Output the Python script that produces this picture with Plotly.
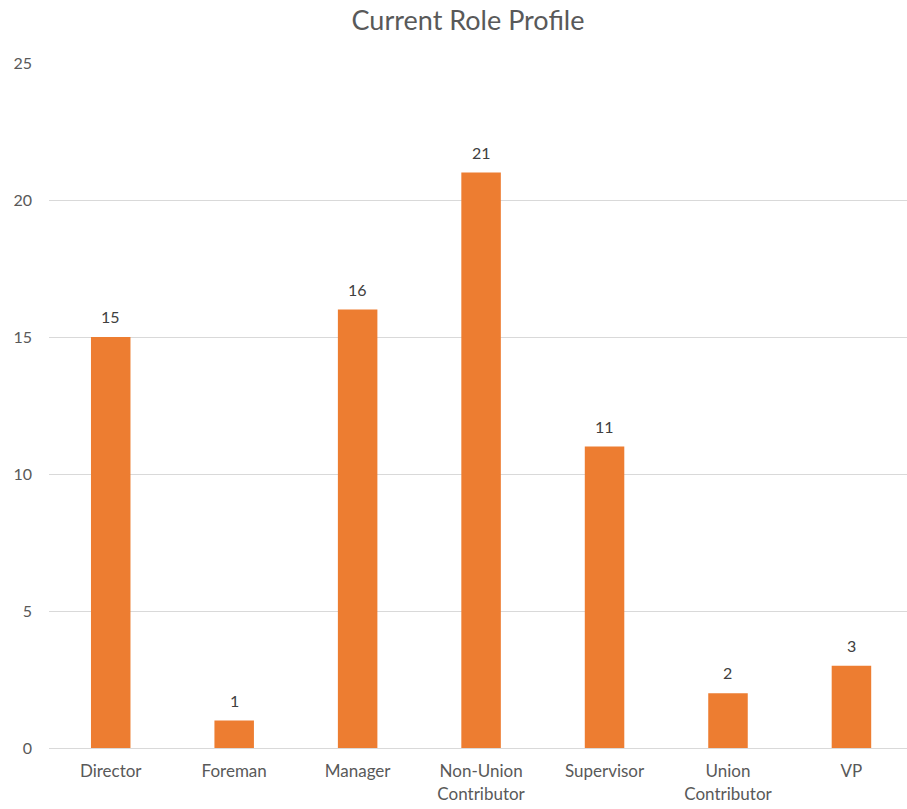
import plotly.graph_objects as go

roles = ["Director", "Foreman", "Manager", "Non-Union<br>Contributor",
         "Supervisor", "Union<br>Contributor", "VP"]
counts = [15, 1, 16, 21, 11, 2, 3]
y_ticks = [0, 5, 10, 15, 20, 25]

font_family = "Lato, 'Open Sans', sans-serif"

fig = go.Figure(
    go.Bar(
        x=roles,
        y=counts,
        marker=dict(color="#ED7D31", line=dict(width=0)),
        width=0.32,
    )
)

# value labels above each bar
for role, c in zip(roles, counts):
    fig.add_annotation(
        x=role,
        y=c,
        text=str(c),
        showarrow=False,
        yanchor="bottom",
        yshift=9,
        font=dict(size=16, color="#404040", family=font_family),
    )

fig.update_layout(
    width=907,
    height=809,
    margin=dict(l=49, r=0, t=63, b=61),
    paper_bgcolor="white",
    plot_bgcolor="white",
    showlegend=False,
    title=dict(
        text="Current Role Profile",
        x=0.516,
        xanchor="center",
        y=0.975,
        yanchor="middle",
        font=dict(size=27, color="#595959", family=font_family),
    ),
    xaxis=dict(
        range=[-0.5, 6.45],
        showgrid=False,
        showline=True,
        linecolor="#D9D9D9",
        linewidth=1,
        ticks="",
        ticklabelstandoff=8,
        tickfont=dict(size=17, color="#595959", family=font_family),
    ),
    yaxis=dict(
        range=[0, 25],
        tickvals=y_ticks,
        showgrid=True,
        gridcolor="#D9D9D9",
        gridwidth=1,
        zeroline=False,
        showline=False,
        ticks="",
        ticklabelstandoff=16,
        tickfont=dict(size=16, color="#595959", family=font_family),
    ),
)

fig.write_html("out.html")
